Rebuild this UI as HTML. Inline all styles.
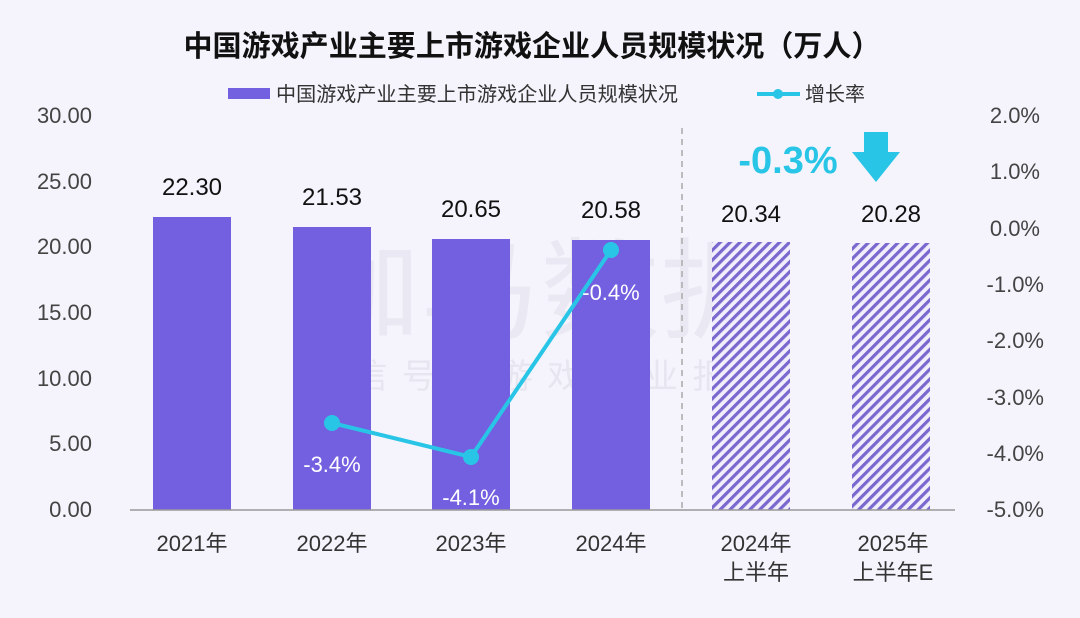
<!DOCTYPE html>
<html><head><meta charset="utf-8"><style>
html,body{margin:0;padding:0;background:#f5f4fc;}
svg{display:block;font-family:"Liberation Sans","Noto Sans CJK SC",sans-serif;}
</style></head><body>
<svg width="1080" height="618" viewBox="0 0 1080 618" xmlns="http://www.w3.org/2000/svg">
<defs>
<pattern id="h" width="7" height="7" patternUnits="userSpaceOnUse" patternTransform="rotate(45)">
<rect width="7" height="7" fill="#f1effb"/>
<rect width="3.2" height="7" fill="#7a68cf"/>
</pattern>
</defs>
<rect width="1080" height="618" fill="#f5f4fc"/>
<text x="532" y="56" text-anchor="middle" font-size="29" font-weight="bold" fill="#111" textLength="697" lengthAdjust="spacingAndGlyphs">中国游戏产业主要上市游戏企业人员规模状况（万人）</text>
<rect x="228" y="88" width="42" height="11" fill="#7360e0"/>
<text x="276" y="101" font-size="20" fill="#333" textLength="402" lengthAdjust="spacingAndGlyphs">中国游戏产业主要上市游戏企业人员规模状况</text>
<line x1="757" y1="94" x2="800" y2="94" stroke="#29c5e6" stroke-width="4"/>
<circle cx="778" cy="94" r="5" fill="#29c5e6"/>
<text x="805" y="101" font-size="20" fill="#333">增长率</text>
<g font-size="22" fill="#444" text-anchor="end">
<text x="92" y="123">30.00</text><text x="92" y="189">25.00</text><text x="92" y="254">20.00</text><text x="92" y="320">15.00</text><text x="92" y="386">10.00</text><text x="92" y="451">5.00</text><text x="92" y="517">0.00</text>
</g>
<g font-size="22" fill="#444" text-anchor="end">
<text x="1040" y="123">2.0%</text><text x="1040" y="179">1.0%</text><text x="1040" y="236">0.0%</text><text x="1044" y="292">-1.0%</text><text x="1044" y="348">-2.0%</text><text x="1044" y="405">-3.0%</text><text x="1044" y="461">-4.0%</text><text x="1044" y="517">-5.0%</text>
</g>
<g font-size="110" fill="#e6e4ee" opacity="0.7"><text x="300" y="330" textLength="480" lengthAdjust="spacingAndGlyphs">伽马数据</text></g>
<g font-size="34" fill="#e2e0ea" opacity="0.7"><text x="305" y="388" textLength="470" lengthAdjust="spacing">微信号：游戏产业报告</text></g>
<rect x="153" y="217" width="78" height="293" fill="#7360e0"/>
<rect x="293" y="227" width="78" height="283" fill="#7360e0"/>
<rect x="432" y="239" width="78" height="271" fill="#7360e0"/>
<rect x="572" y="240" width="78" height="270" fill="#7360e0"/>
<rect x="712" y="242" width="78" height="268" fill="url(#h)"/>
<rect x="852" y="243" width="78" height="267" fill="url(#h)"/>
<line x1="130" y1="510" x2="955" y2="510" stroke="#999" stroke-width="1.5"/>
<line x1="682" y1="128" x2="682" y2="510" stroke="#aaa" stroke-width="1.5" stroke-dasharray="6,5"/>
<g font-size="24" fill="#111" text-anchor="middle">
<text x="192" y="195">22.30</text><text x="332" y="205">21.53</text><text x="471" y="217">20.65</text><text x="611" y="218">20.58</text><text x="751" y="222">20.34</text><text x="891" y="222">20.28</text>
</g>
<polyline points="332,423 471,457 611,250" fill="none" stroke="#29c5e6" stroke-width="4"/>
<circle cx="332" cy="423" r="8" fill="#29c5e6"/><circle cx="471" cy="457" r="8" fill="#29c5e6"/><circle cx="611" cy="250" r="8" fill="#29c5e6"/>
<g font-size="22" fill="#fff" text-anchor="middle">
<text x="332" y="472">-3.4%</text><text x="471" y="505">-4.1%</text><text x="611" y="300">-0.4%</text>
</g>
<text x="788" y="173" font-size="38" font-weight="bold" fill="#29c5e6" text-anchor="middle">-0.3%</text>
<polygon points="864,132 888,132 888,152 900,152 876,182 852,152 864,152" fill="#29c5e6"/>
<g font-size="22" fill="#333" text-anchor="middle">
<text x="192" y="551">2021年</text><text x="332" y="551">2022年</text><text x="471" y="551">2023年</text><text x="611" y="551">2024年</text>
<text x="756" y="551">2024年</text><text x="756" y="580">上半年</text>
<text x="893" y="551">2025年</text><text x="893" y="580">上半年E</text>
</g>
</svg>
</body></html>
